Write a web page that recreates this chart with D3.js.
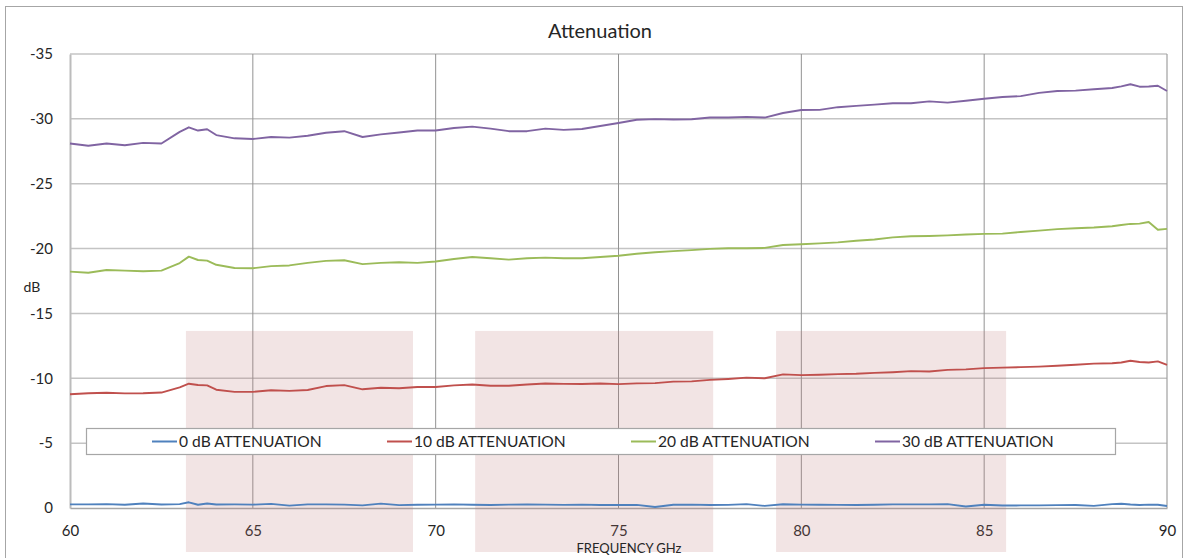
<!DOCTYPE html>
<html>
<head>
<meta charset="utf-8">
<script src="https://cdn.jsdelivr.net/npm/d3@7"></script>
<style>
    body { margin: 0; background: #fff; }
    text { font-family: Lato, "Open Sans", sans-serif; fill: #262626; }
</style>
</head>
<body>
<script>
// frequency points (GHz)
var freqGHz = [60, 60.5, 61, 61.5, 62, 62.5, 63, 63.25, 63.5, 63.75, 64, 64.5, 65, 65.5, 66, 66.5, 67, 67.5, 68, 68.5,
    69, 69.5, 70, 70.5, 71, 71.5, 72, 72.5, 73, 73.5, 74, 74.5, 75, 75.5, 76, 76.5, 77, 77.5, 78, 78.5,
    79, 79.5, 80, 80.5, 81, 81.5, 82, 82.5, 83, 83.5, 84, 84.5, 85, 85.5, 86, 86.5, 87, 87.5, 88, 88.5,
    88.75, 89, 89.25, 89.5, 89.75, 90];
var att0 = [-0.28, -0.28, -0.3, -0.25, -0.35, -0.27, -0.3, -0.44, -0.25, -0.35, -0.27, -0.28, -0.26, -0.32, -0.18, -0.28, -0.28, -0.26, -0.2, -0.34,
    -0.22, -0.25, -0.26, -0.28, -0.25, -0.23, -0.26, -0.27, -0.26, -0.24, -0.26, -0.23, -0.23, -0.24, -0.08, -0.25, -0.26, -0.23, -0.24, -0.3,
    -0.16, -0.29, -0.26, -0.25, -0.24, -0.23, -0.25, -0.28, -0.28, -0.28, -0.3, -0.12, -0.25, -0.19, -0.2, -0.2, -0.22, -0.23, -0.16, -0.3,
    -0.33, -0.27, -0.23, -0.26, -0.25, -0.15];
var att10 = [-8.77, -8.85, -8.88, -8.84, -8.85, -8.9, -9.3, -9.58, -9.48, -9.45, -9.12, -8.95, -8.95, -9.08, -9.03, -9.1, -9.4, -9.47, -9.15, -9.27,
    -9.23, -9.33, -9.33, -9.45, -9.52, -9.42, -9.43, -9.52, -9.6, -9.57, -9.56, -9.6, -9.55, -9.61, -9.63, -9.74, -9.76, -9.88, -9.95, -10.05,
    -10.0, -10.3, -10.24, -10.27, -10.32, -10.35, -10.42, -10.47, -10.55, -10.52, -10.65, -10.69, -10.78, -10.82, -10.86, -10.9, -10.97, -11.04, -11.13, -11.16,
    -11.22, -11.35, -11.26, -11.22, -11.3, -11.03];
var att20 = [-18.22, -18.14, -18.35, -18.3, -18.25, -18.3, -18.88, -19.38, -19.12, -19.07, -18.75, -18.5, -18.48, -18.65, -18.7, -18.9, -19.05, -19.1, -18.8, -18.9,
    -18.95, -18.9, -19.0, -19.2, -19.35, -19.25, -19.15, -19.25, -19.3, -19.25, -19.25, -19.35, -19.45, -19.6, -19.72, -19.8, -19.88, -19.98, -20.02, -20.02,
    -20.05, -20.28, -20.33, -20.4, -20.48, -20.6, -20.7, -20.86, -20.95, -20.97, -21.02, -21.08, -21.13, -21.15, -21.28, -21.38, -21.5, -21.57, -21.62, -21.72,
    -21.82, -21.9, -21.92, -22.05, -21.45, -21.52];
var att30 = [-28.1, -27.93, -28.1, -27.97, -28.15, -28.1, -29.0, -29.35, -29.1, -29.2, -28.75, -28.5, -28.45, -28.6, -28.55, -28.7, -28.93, -29.05, -28.6, -28.8,
    -28.95, -29.1, -29.1, -29.3, -29.4, -29.25, -29.05, -29.05, -29.25, -29.15, -29.22, -29.45, -29.68, -29.93, -29.98, -29.95, -29.97, -30.1, -30.1, -30.15,
    -30.1, -30.45, -30.68, -30.69, -30.9, -31.0, -31.1, -31.2, -31.2, -31.35, -31.25, -31.4, -31.55, -31.68, -31.75, -32.0, -32.15, -32.18, -32.28, -32.38,
    -32.5, -32.67, -32.48, -32.5, -32.55, -32.15];
var seriesNames = ["0 dB ATTENUATION", "10 dB ATTENUATION", "20 dB ATTENUATION", "30 dB ATTENUATION"];
var seriesColors = ["#4f81bd", "#c0504d", "#9bbb59", "#8064a2"];
var xTicks = [60, 65, 70, 75, 80, 85, 90];
var yTicks = [0, -5, -10, -15, -20, -25, -30, -35];
// shaded bands (GHz) and their upper level (dB)
var bandsGHz = [[63.17, 69.38], [71.08, 77.59], [79.31, 85.6]];
var bandTopDb = -13.65;

var width = 1188, height = 558;
var margin = { top: 54, right: 21, bottom: 50, left: 70 };
var plotW = width - margin.left - margin.right;
var plotH = height - margin.top - margin.bottom;

var svg = d3.select("body").append("svg")
    .attr("width", width)
    .attr("height", height);

// outer chart frame
svg.append("rect")
    .attr("x", 5.5).attr("y", 6.5)
    .attr("width", 1177).attr("height", 570)
    .attr("fill", "none").attr("stroke", "#a6a6a6");

svg.append("text")
    .attr("x", 600).attr("y", 38)
    .attr("text-anchor", "middle")
    .style("font-size", "20px")
    .text("Attenuation");

var g = svg.append("g").attr("transform", "translate(" + margin.left + "," + margin.top + ")");

var x = d3.scaleLinear().domain([60, 90]).range([0, plotW]);
var y = d3.scaleLinear().domain([0, -35]).range([plotH, 0]);

// gridlines
g.selectAll(".hgrid").data(yTicks.filter(d => d != 0)).enter().append("line")
    .attr("x1", 0).attr("x2", plotW)
    .attr("y1", d => y(d)).attr("y2", d => y(d))
    .attr("stroke", "#c4c4c4").attr("stroke-width", 1.5);
g.selectAll(".vgrid").data(xTicks.slice(1, -1)).enter().append("line")
    .attr("x1", d => x(d)).attr("x2", d => x(d))
    .attr("y1", 0).attr("y2", plotH)
    .attr("stroke", "#929292").attr("stroke-width", 1);
g.append("line").attr("x1", plotW).attr("x2", plotW).attr("y1", 0).attr("y2", plotH)
    .attr("stroke", "#a0a0a0").attr("stroke-width", 1.2);

// axes
var yAxis = g.append("g")
    .call(d3.axisLeft(y).tickValues(yTicks).tickSize(0).tickPadding(17).tickFormat(d => d));
var xAxis = g.append("g")
    .attr("transform", "translate(0," + plotH + ")")
    .call(d3.axisBottom(x).tickValues(xTicks).tickSize(0).tickPadding(17).tickFormat(d => d));
yAxis.select(".domain").attr("stroke", "#bcbcbc").attr("stroke-width", 2);
xAxis.select(".domain").attr("stroke", "#a6a6a6").attr("stroke-width", 1.5);
svg.selectAll(".tick text").style("font-size", "15px").style("font-family", "Lato, sans-serif").attr("fill", "#262626");

// legend box
var legend = svg.append("g");
legend.append("rect")
    .attr("x", 86.5).attr("y", 428.5)
    .attr("width", 1029).attr("height", 26)
    .attr("fill", "#fff").attr("stroke", "#a6a6a6").attr("stroke-width", 1.2);

// shaded bands, drawn as a light overlay
g.selectAll(".band").data(bandsGHz).enter().append("rect")
    .attr("x", d => x(d[0]))
    .attr("width", d => x(d[1]) - x(d[0]))
    .attr("y", y(bandTopDb))
    .attr("height", height - margin.top - 6 - y(bandTopDb))
    .attr("fill", "rgb(190,120,120)").attr("fill-opacity", 0.2);

// series lines
var allSeries = [att0, att10, att20, att30];
var line = d3.line()
    .x((d, i) => x(freqGHz[i]))
    .y(d => y(d));
allSeries.forEach(function (values, i) {
    g.append("path")
        .datum(values)
        .attr("fill", "none")
        .attr("stroke", seriesColors[i])
        .attr("stroke-width", 1.9)
        .attr("stroke-linejoin", "round")
        .attr("d", line);
});

// legend entries
var legendX = [152, 387, 631, 875];
seriesNames.forEach(function (name, i) {
    legend.append("line")
        .attr("x1", legendX[i]).attr("x2", legendX[i] + 25)
        .attr("y1", 441.5).attr("y2", 441.5)
        .attr("stroke", seriesColors[i]).attr("stroke-width", 2);
    legend.append("text")
        .attr("x", legendX[i] + 27).attr("y", 447)
        .style("font-size", "15.6px")
        .text(name);
});

// axis titles
svg.append("text")
    .attr("x", 32).attr("y", 292)
    .attr("text-anchor", "middle")
    .style("font-size", "14px")
    .text("dB");
svg.append("text")
    .attr("x", 629).attr("y", 553)
    .attr("text-anchor", "middle")
    .style("font-size", "13px")
    .text("FREQUENCY GHz");
</script>
</body>
</html>
